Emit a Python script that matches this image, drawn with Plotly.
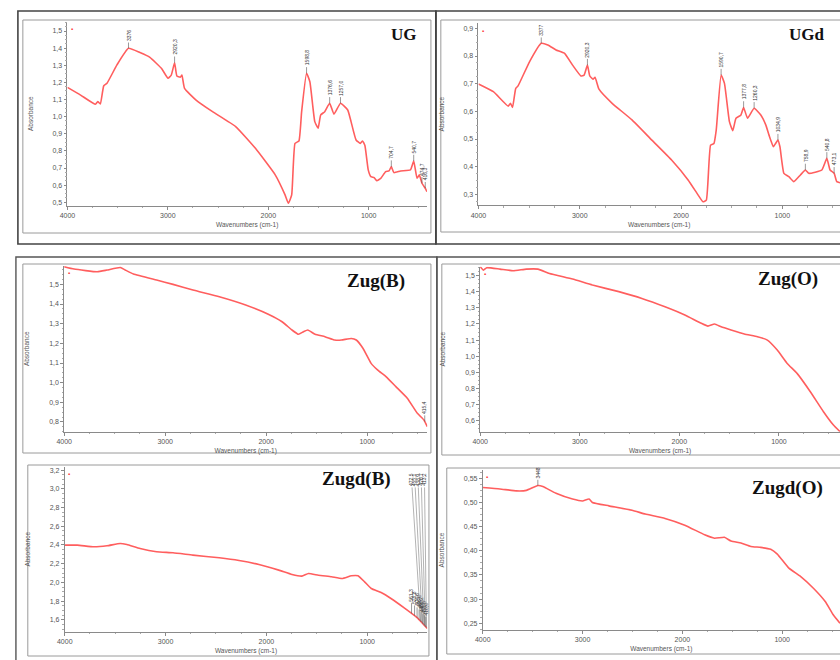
import numpy as np
import plotly.graph_objects as go

W, H = 840, 660

# ---------------- data ----------------
ug_wn = [4000, 3869, 3721, 3698, 3672, 3639, 3606, 3507, 3392, 3278, 3179, 3064, 2998, 2966, 2933, 2910,
         2877, 2860, 2834, 2719, 2555, 2325, 2128, 1931, 1833, 1800, 1767, 1734, 1695, 1668, 1619, 1586,
         1537, 1504, 1478, 1438, 1389, 1346, 1281, 1209, 1176, 1126, 1084, 1061, 1038, 1005, 979, 946,
         920, 880, 831, 798, 775, 749, 683, 585, 552, 519, 496, 470, 437, 420]
ug_abs = [1.171, 1.126, 1.072, 1.088, 1.074, 1.179, 1.195, 1.302, 1.399, 1.374, 1.346, 1.282, 1.224, 1.243,
          1.315, 1.237, 1.230, 1.243, 1.165, 1.097, 1.029, 0.942, 0.815, 0.660, 0.543, 0.494, 0.543, 0.844,
          0.858, 1.029, 1.253, 1.204, 0.971, 0.932, 1.010, 1.029, 1.078, 1.014, 1.078, 1.039, 0.971, 0.864,
          0.844, 0.858, 0.831, 0.689, 0.650, 0.644, 0.626, 0.640, 0.679, 0.683, 0.708, 0.673, 0.683, 0.689,
          0.741, 0.640, 0.660, 0.611, 0.582, 0.562]
ug_peaks = [3392, 2933, 1619, 1389, 1281, 775, 552, 470, 437]
ug_labels = ["3376", "2920,3", "1598,8", "1376,6", "1257,0", "704,7", "540,7", "474,7", "416,3"]

ugd_wn = [4000, 3853, 3707, 3684, 3664, 3632, 3609, 3495, 3380, 3315, 3234, 3152, 3071, 2989, 2957, 2924,
          2901, 2869, 2849, 2810, 2680, 2484, 2288, 2093, 1930, 1832, 1783, 1750, 1708, 1675, 1652, 1604,
          1571, 1522, 1489, 1457, 1408, 1382, 1343, 1278, 1212, 1163, 1131, 1088, 1066, 1043, 1023, 984,
          935, 886, 821, 772, 739, 609, 560, 528, 488, 462, 430]
ugd_abs = [0.699, 0.671, 0.619, 0.629, 0.614, 0.683, 0.692, 0.780, 0.846, 0.840, 0.822, 0.810, 0.767, 0.728,
           0.731, 0.767, 0.728, 0.716, 0.723, 0.680, 0.629, 0.569, 0.496, 0.424, 0.352, 0.298, 0.273, 0.279,
           0.478, 0.484, 0.533, 0.731, 0.701, 0.563, 0.530, 0.575, 0.587, 0.614, 0.575, 0.611, 0.587, 0.551,
           0.514, 0.472, 0.484, 0.496, 0.472, 0.376, 0.364, 0.346, 0.370, 0.388, 0.376, 0.388, 0.430, 0.388,
           0.376, 0.346, 0.342]
ugd_peaks = [3380, 2924, 1604, 1382, 1278, 1043, 772, 560, 488]
ugd_labels = ["3377", "2920,3", "1590,7", "1377,8", "1260,3", "1034,9", "758,9", "540,8", "473,1"]

zugb_wn = [4000, 3902, 3673, 3575, 3444, 3395, 3314, 3085, 2922, 2725, 2464, 2203, 1974, 1843, 1745, 1680,
           1631, 1588, 1516, 1418, 1320, 1255, 1157, 1108, 1042, 961, 895, 814, 716, 601, 503, 438, 405]
zugb_abs = [1.590, 1.578, 1.564, 1.573, 1.586, 1.573, 1.553, 1.522, 1.500, 1.471, 1.437, 1.395, 1.347, 1.310,
            1.268, 1.246, 1.259, 1.268, 1.246, 1.234, 1.217, 1.217, 1.225, 1.217, 1.175, 1.098, 1.064, 1.031,
            0.980, 0.920, 0.844, 0.810, 0.776]
zugb_peaks = [430]
zugb_labels = ["415,4"]

zugo_wn = [4000, 3967, 3934, 3801, 3669, 3536, 3420, 3304, 3072, 2873, 2608, 2376, 2144, 1945, 1779, 1713,
           1647, 1580, 1481, 1348, 1216, 1116, 1017, 917, 818, 685, 553, 453, 387]
zugo_abs = [1.556, 1.535, 1.550, 1.541, 1.531, 1.541, 1.541, 1.514, 1.479, 1.442, 1.401, 1.359, 1.307, 1.256,
            1.204, 1.187, 1.200, 1.183, 1.163, 1.138, 1.121, 1.100, 1.038, 0.955, 0.893, 0.779, 0.655, 0.572,
            0.531]

zugdb_wn = [4000, 3876, 3712, 3581, 3450, 3384, 3253, 3089, 2926, 2729, 2467, 2271, 2074, 1877, 1746, 1648,
            1583, 1484, 1353, 1249, 1157, 1091, 1026, 960, 862, 764, 633, 502, 404]
zugdb_abs = [2.398, 2.398, 2.380, 2.391, 2.416, 2.405, 2.362, 2.327, 2.316, 2.291, 2.263, 2.234, 2.191, 2.131,
             2.085, 2.067, 2.095, 2.077, 2.060, 2.042, 2.070, 2.070, 2.006, 1.935, 1.892, 1.828, 1.728, 1.621,
             1.507]
zugdb_top_peaks = [470, 452, 437, 424, 412]
zugdb_top_labels = ["472,5", "455,1", "438,9", "426,7", "413,2"]
zugdb_low_peaks = [560, 530, 505, 485, 465, 448, 432, 418]
zugdb_low_labels = ["561,3", "528,8", "504,6", "486,0", "466,2", "449,7", "431,5", "418,0"]

zugdo_wn = [4000, 3828, 3663, 3563, 3448, 3398, 3266, 3100, 3001, 2935, 2902, 2736, 2505, 2372, 2174, 1976,
            1777, 1678, 1579, 1512, 1413, 1314, 1215, 1115, 1049, 933, 817, 685, 569, 487, 421]
zugdo_abs = [0.531, 0.528, 0.524, 0.525, 0.535, 0.533, 0.519, 0.507, 0.503, 0.507, 0.500, 0.493, 0.484, 0.476,
             0.467, 0.453, 0.433, 0.426, 0.428, 0.420, 0.416, 0.409, 0.407, 0.403, 0.393, 0.364, 0.347, 0.322,
             0.295, 0.267, 0.250]
zugdo_peaks = [3448]
zugdo_labels = ["3448"]

titles = ["UG", "UGd", "Zug(B)", "Zug(O)", "Zugd(B)", "Zugd(O)"]

# ---------------- layout helpers ----------------
def px_x(p):
    return p / W


def px_y(p):
    return 1 - p / H


LINE = "#ff5e5e"
AX = "#8a8a8a"

panels = [
    dict(wn=ug_wn, ab=ug_abs, xr=[4000, 420], yr=[0.48, 1.555], dt=0.1, fmt=".1f", xd=(60, 423), yd=(21.6, 205.7)),
    dict(wn=ugd_wn, ab=ugd_abs, xr=[4000, 430], yr=[0.26, 0.92], dt=0.1, fmt=".1f", xd=(475, 840), yd=(22.8, 205.4)),
    dict(wn=zugb_wn, ab=zugb_abs, xr=[4000, 405], yr=[0.75, 1.595], dt=0.1, fmt=".1f", xd=(56.7, 423.3), yd=(265.7, 431.8)),
    dict(wn=zugo_wn, ab=zugo_abs, xr=[4000, 387], yr=[0.53, 1.556], dt=0.1, fmt=".1f", xd=(476.7, 840), yd=(266.7, 431.8)),
    dict(wn=zugdb_wn, ab=zugdb_abs, xr=[4000, 404], yr=[1.472, 3.236], dt=0.2, fmt=".1f", xd=(57.3, 423.3), yd=(466.7, 631.8)),
    dict(wn=zugdo_wn, ab=zugdo_abs, xr=[4000, 421], yr=[0.236, 0.567], dt=0.05, fmt=".2f", xd=(479.3, 840), yd=(470.1, 630)),
]

fig = go.Figure()
annotations = []
layout_axes = {}

for i, p in enumerate(panels, start=1):
    xa = "x" if i == 1 else f"x{i}"
    ya = "y" if i == 1 else f"y{i}"
    fig.add_trace(go.Scatter(x=p["wn"], y=p["ab"], mode="lines", xaxis=xa, yaxis=ya,
                             line=dict(color=LINE, width=1.6, shape="spline", smoothing=0.4),
                             hoverinfo="skip"))
    xkey = "xaxis" if i == 1 else f"xaxis{i}"
    ykey = "yaxis" if i == 1 else f"yaxis{i}"
    layout_axes[xkey] = dict(
        domain=[px_x(p["xd"][0]), min(1.0, px_x(p["xd"][1]))], range=p["xr"], autorange=False,
        anchor=ya, tick0=0, dtick=1000, ticks="outside", ticklen=3, tickcolor=AX, tickwidth=0.8,
        showline=True, linecolor=AX, linewidth=0.8, showgrid=False, zeroline=False,
        tickfont=dict(size=7, color="#555", family="Arial, Liberation Sans"),
        minor=dict(ticks="outside", ticklen=1.5, dtick=250, tickcolor="#aaaaaa"),
        title=dict(text="Wavenumbers (cm-1)", font=dict(size=6.5, color="#555"), standoff=4),
    )
    layout_axes[ykey] = dict(
        domain=[px_y(p["yd"][1]), px_y(p["yd"][0])], range=p["yr"], autorange=False,
        anchor=xa, dtick=p["dt"], tick0=0, tickformat=p["fmt"], ticks="outside", ticklen=3,
        tickcolor=AX, tickwidth=0.8, showline=True, linecolor=AX, linewidth=0.8, showgrid=False,
        zeroline=False, tickfont=dict(size=7, color="#555", family="Arial, Liberation Sans"),
        minor=dict(ticks="outside", ticklen=1.5, dtick=p["dt"] / 4, tickcolor="#aaaaaa"),
        title=dict(text="Absorbance", font=dict(size=6.5, color="#555"), standoff=18),
    )
    annotations.append(dict(xref=f"{xa} domain", yref=f"{ya} domain", x=0.004, y=0.985, text="▪",
                            showarrow=False, font=dict(size=6, color="#ff3030"), xanchor="left", yanchor="top"))


def peak_notes(idx, wn, ab, peaks, labels, extra=0):
    xa = "x" if idx == 1 else f"x{idx}"
    ya = "y" if idx == 1 else f"y{idx}"
    wr, ar = np.array(wn[::-1], float), np.array(ab[::-1], float)
    for pk, lb in zip(peaks, labels):
        v = float(np.interp(pk, wr, ar))
        annotations.append(dict(x=pk, y=v, xref=xa, yref=ya, text=lb, textangle=-90, showarrow=True,
                                arrowhead=0, arrowwidth=0.6, arrowcolor="#555", ax=0,
                                ay=-(7 + extra + 1.45 * len(lb)),
                                font=dict(size=5, color="#333", family="Arial, Liberation Sans")))


peak_notes(1, ug_wn, ug_abs, ug_peaks, ug_labels)
peak_notes(2, ugd_wn, ugd_abs, ugd_peaks, ugd_labels)
peak_notes(3, zugb_wn, zugb_abs, zugb_peaks, zugb_labels)
peak_notes(6, zugdo_wn, zugdo_abs, zugdo_peaks, zugdo_labels)
peak_notes(5, zugdb_wn, zugdb_abs, zugdb_low_peaks, zugdb_low_labels, extra=4)

wr5, ar5 = np.array(zugdb_wn[::-1], float), np.array(zugdb_abs[::-1], float)
for k, (pk, lb) in enumerate(zip(zugdb_top_peaks, zugdb_top_labels)):
    v = float(np.interp(pk, wr5, ar5))
    annotations.append(dict(x=pk, y=v, xref="x5", yref="y5", axref="x5", ayref="y5",
                            ax=560 - k * 32, ay=3.1, text=lb, textangle=-90, showarrow=True,
                            arrowhead=0, arrowwidth=0.5, arrowcolor="#666",
                            font=dict(size=5, color="#333", family="Arial, Liberation Sans")))

title_pos = [(400, 35, 17), (807, 35, 17), (372, 281, 19), (788, 279, 19), (352, 479, 19), (787, 488, 19)]
for t, (x, y, s) in zip(titles, title_pos):
    annotations.append(dict(xref="paper", yref="paper", x=px_x(x), y=px_y(y), text=f"<b>{t}</b>",
                            xanchor="center", yanchor="middle", showarrow=False,
                            font=dict(size=s, color="#111",
                                      family="Liberation Serif, Times New Roman, serif")))

shapes = []


def rect(x0, y0, x1, y1, color, width):
    shapes.append(dict(type="rect", xref="paper", yref="paper", x0=px_x(x0), x1=px_x(x1),
                       y0=px_y(y1), y1=px_y(y0), line=dict(color=color, width=width),
                       fillcolor="rgba(0,0,0,0)", layer="below"))


rect(10, 11, 432, 244, "#444", 1.6)
rect(432, 11, 845, 244, "#444", 1.6)
rect(8, 257, 433, 665, "#555", 1.4)
rect(433, 257, 845, 665, "#555", 1.4)
rect(15, 20, 427, 233, "#9a9a9a", 1)
rect(437, 20, 845, 232, "#9a9a9a", 1)
rect(15, 264, 427, 453, "#9a9a9a", 1)
rect(438, 264, 845, 455, "#9a9a9a", 1)
rect(20, 465, 425, 656, "#9a9a9a", 1)
rect(443, 468, 845, 654, "#9a9a9a", 1)

fig.update_layout(
    width=W, height=H, margin=dict(l=0, r=0, t=0, b=0), autosize=False,
    paper_bgcolor="white", plot_bgcolor="white", showlegend=False,
    separators=",.", annotations=annotations, shapes=shapes,
    font=dict(family="Arial, Liberation Sans"),
    **layout_axes,
)

fig.write_html("out.html", config={"displayModeBar": False},
               post_script="document.body.style.margin='0';document.body.style.overflow='hidden';")
